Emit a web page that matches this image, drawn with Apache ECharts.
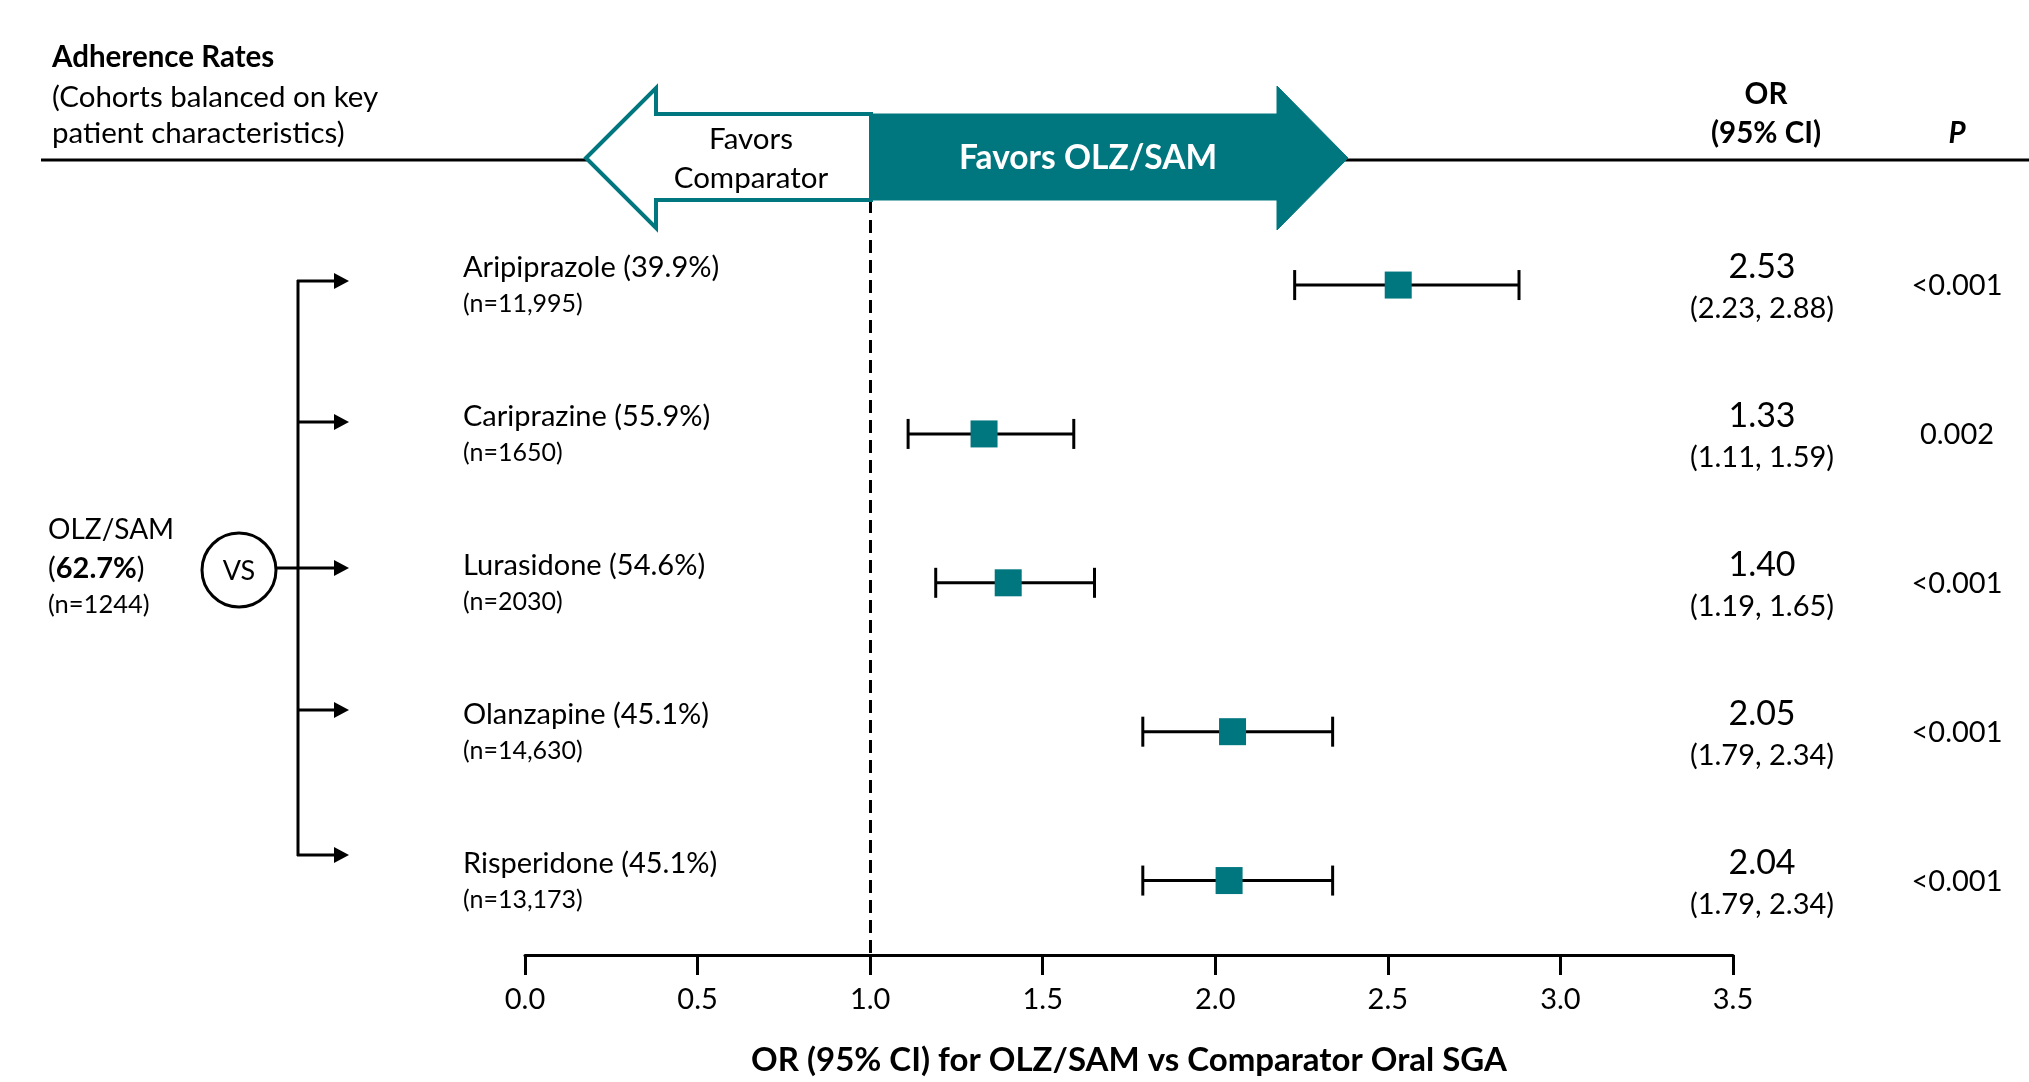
<!DOCTYPE html>
<html>
<head>
<meta charset="utf-8">
<script src="https://cdn.jsdelivr.net/npm/echarts@6/dist/echarts.min.js"></script>
<style>
html,body{margin:0;padding:0;background:#fff;}
#chart{width:2029px;height:1082px;}
</style>
</head>
<body>
<div id="chart"></div>
<script>
// ---- data ----
const drugs = ['Aripiprazole', 'Cariprazine', 'Lurasidone', 'Olanzapine', 'Risperidone'];
const adherence = ['39.9%', '55.9%', '54.6%', '45.1%', '45.1%'];
const nCounts = ['11,995', '1650', '2030', '14,630', '13,173'];
const orValues = [2.53, 1.33, 1.40, 2.05, 2.04];
const ciLow = [2.23, 1.11, 1.19, 1.79, 1.79];
const ciHigh = [2.88, 1.59, 1.65, 2.34, 2.34];
const pValues = ['<0.001', '0.002', '<0.001', '<0.001', '<0.001'];
const olzRate = '62.7%';
const olzN = '1244';
const axisTitle = 'OR (95% CI) for OLZ/SAM vs Comparator Oral SGA';

// ---- style ----
const FONT = 'Lato';
const TEAL = '#00767F';

const chart = echarts.init(document.getElementById('chart'), null, {renderer: 'canvas'});

const rowIdx = drugs.map((d, i) => i);

const option = {
  backgroundColor: '#fff',
  animation: false,
  textStyle: {fontFamily: FONT},
  grid: {left: 525, right: 296, top: 160, bottom: 120},
  xAxis: {
    type: 'value', min: 0, max: 3.5, interval: 0.5,
    splitLine: {show: false},
    axisLine: {onZero: false, lineStyle: {color: '#000', width: 3}},
    axisTick: {length: 20, lineStyle: {color: '#000', width: 3}},
    axisLabel: {color: '#000', fontSize: 29, fontFamily: FONT, margin: 30,
      formatter: v => v.toFixed(1)},
    name: axisTitle, nameLocation: 'middle', nameGap: 89,
    nameTextStyle: {color: '#000', fontSize: 33, fontWeight: 'bold', fontFamily: FONT}
  },
  yAxis: {type: 'value', inverse: true, min: -0.84, max: 4.5, show: false},
  series: [
    {
      type: 'custom',
      name: 'ci',
      z: 3,
      data: rowIdx.map(i => [ciLow[i], ciHigh[i], i]),
      renderItem: (params, api) => {
        const a = api.coord([api.value(0), api.value(2)]);
        const b = api.coord([api.value(1), api.value(2)]);
        const st = {stroke: '#000', lineWidth: 3};
        return {type: 'group', children: [
          {type: 'line', shape: {x1: a[0], y1: a[1], x2: b[0], y2: b[1]}, style: st},
          {type: 'line', shape: {x1: a[0], y1: a[1] - 15, x2: a[0], y2: a[1] + 15}, style: st},
          {type: 'line', shape: {x1: b[0], y1: b[1] - 15, x2: b[0], y2: b[1] + 15}, style: st}
        ]};
      }
    },
    {
      type: 'scatter',
      name: 'or',
      z: 4,
      symbol: 'rect', symbolSize: 27,
      itemStyle: {color: TEAL, opacity: 1},
      data: rowIdx.map(i => [orValues[i], i]),
      markLine: {
        silent: true, symbol: 'none', label: {show: false},
        lineStyle: {color: '#000', width: 3, type: [13, 7]},
        data: [[{coord: [1, -0.84]}, {coord: [1, 4.5]}]]
      }
    },
    {
      type: 'custom',
      name: 'text',
      z: 5,
      data: rowIdx.map(i => [0, i]),
      renderItem: (params, api) => {
        const i = params.dataIndex;
        const cy = api.coord([0, api.value(1)])[1];
        const base = {fontFamily: FONT, fill: '#000', textVerticalAlign: 'middle'};
        return {type: 'group', children: [
          {type: 'text', style: Object.assign({}, base, {text: drugs[i] + ' (' + adherence[i] + ')', x: 463, y: cy - 17, fontSize: 29, textAlign: 'left'})},
          {type: 'text', style: Object.assign({}, base, {text: '(n=' + nCounts[i] + ')', x: 463, y: cy + 19, fontSize: 25, textAlign: 'left'})},
          {type: 'text', style: Object.assign({}, base, {text: orValues[i].toFixed(2), x: 1762, y: cy - 18, fontSize: 34, textAlign: 'center'})},
          {type: 'text', style: Object.assign({}, base, {text: '(' + ciLow[i].toFixed(2) + ', ' + ciHigh[i].toFixed(2) + ')', x: 1762, y: cy + 24, fontSize: 29, textAlign: 'center'})},
          {type: 'text', style: Object.assign({}, base, {text: pValues[i], x: 1957, y: cy + 1, fontSize: 29, textAlign: 'center'})}
        ]};
      }
    }
  ],
  graphic: [
    // header texts
    {type: 'text', z: 10, style: {text: 'Adherence Rates', x: 52, y: 57, fontSize: 29.5, fontWeight: 'bold', fontFamily: FONT, fill: '#000', textVerticalAlign: 'middle'}},
    {type: 'text', z: 10, style: {text: '(Cohorts balanced on key', x: 52, y: 97, fontSize: 29.5, fontFamily: FONT, fill: '#000', textVerticalAlign: 'middle'}},
    {type: 'text', z: 10, style: {text: 'patient characteristics)', x: 52, y: 133, fontSize: 29.5, fontFamily: FONT, fill: '#000', textVerticalAlign: 'middle'}},
    {type: 'text', z: 10, style: {text: 'OR', x: 1766, y: 94, fontSize: 29.5, fontWeight: 'bold', fontFamily: FONT, fill: '#000', textAlign: 'center', textVerticalAlign: 'middle'}},
    {type: 'text', z: 10, style: {text: '(95% CI)', x: 1766, y: 133, fontSize: 29.5, fontWeight: 'bold', fontFamily: FONT, fill: '#000', textAlign: 'center', textVerticalAlign: 'middle'}},
    {type: 'text', z: 10, style: {text: 'P', x: 1957, y: 133, fontSize: 29.5, fontWeight: 'bold', fontStyle: 'italic', fontFamily: FONT, fill: '#000', textAlign: 'center', textVerticalAlign: 'middle'}},
    // header rule
    {type: 'line', z: 8, shape: {x1: 41, y1: 160, x2: 2029, y2: 160}, style: {stroke: '#000', lineWidth: 3}},
    // left (comparator) arrow
    {type: 'polygon', z: 11, shape: {points: [[586, 158], [656, 88], [656, 114], [871, 114], [871, 200], [656, 200], [656, 228]]},
      style: {fill: '#fff', stroke: TEAL, lineWidth: 4, lineJoin: 'miter'}},
    // right (OLZ/SAM) arrow
    {type: 'polygon', z: 12, shape: {points: [[871, 114], [1277, 114], [1277, 86], [1348, 158], [1277, 230], [1277, 200], [871, 200]]},
      style: {fill: TEAL, stroke: TEAL, lineWidth: 1}},
    {type: 'text', z: 13, style: {text: 'Favors', x: 751, y: 139, fontSize: 29.5, fontFamily: FONT, fill: '#000', textAlign: 'center', textVerticalAlign: 'middle'}},
    {type: 'text', z: 13, style: {text: 'Comparator', x: 751, y: 178, fontSize: 29.5, fontFamily: FONT, fill: '#000', textAlign: 'center', textVerticalAlign: 'middle'}},
    {type: 'text', z: 13, style: {text: 'Favors OLZ/SAM', x: 1088, y: 158, fontSize: 33.5, fontWeight: 'bold', fontFamily: FONT, fill: '#fff', textAlign: 'center', textVerticalAlign: 'middle'}},
    // OLZ/SAM group at left
    {type: 'text', z: 10, style: {text: 'OLZ/SAM', x: 48, y: 530, fontSize: 28, fontFamily: FONT, fill: '#000', textVerticalAlign: 'middle'}},
    {type: 'text', z: 10, style: {
      text: '(' + '{b|' + olzRate + '}' + ')', x: 48, y: 569, fontSize: 29, fontFamily: FONT, fill: '#000', textVerticalAlign: 'middle',
      rich: {b: {fontSize: 29, fontWeight: 'bold', fontFamily: FONT, fill: '#000'}}
    }},
    {type: 'text', z: 10, style: {text: '(n=' + olzN + ')', x: 48, y: 605, fontSize: 25.5, fontFamily: FONT, fill: '#000', textVerticalAlign: 'middle'}},
    {type: 'circle', z: 10, shape: {cx: 239, cy: 570, r: 37}, style: {fill: '#fff', stroke: '#000', lineWidth: 3}},
    {type: 'text', z: 11, style: {text: 'VS', x: 239, y: 571, fontSize: 27, fontFamily: FONT, fill: '#000', textAlign: 'center', textVerticalAlign: 'middle'}},
    {type: 'line', z: 10, shape: {x1: 276, y1: 568, x2: 298, y2: 568}, style: {stroke: '#000', lineWidth: 3}},
    // bracket
    {type: 'line', z: 10, shape: {x1: 298, y1: 280, x2: 298, y2: 856}, style: {stroke: '#000', lineWidth: 3}},
    ...[281, 422, 568, 710, 855].map(y => ({type: 'group', z: 10, children: [
      {type: 'line', shape: {x1: 297, y1: y, x2: 336, y2: y}, style: {stroke: '#000', lineWidth: 3}},
      {type: 'polygon', shape: {points: [[334, y - 8], [349, y], [334, y + 8]]}, style: {fill: '#000'}}
    ]}))
  ]
};
chart.setOption(option);
</script>
</body>
</html>
